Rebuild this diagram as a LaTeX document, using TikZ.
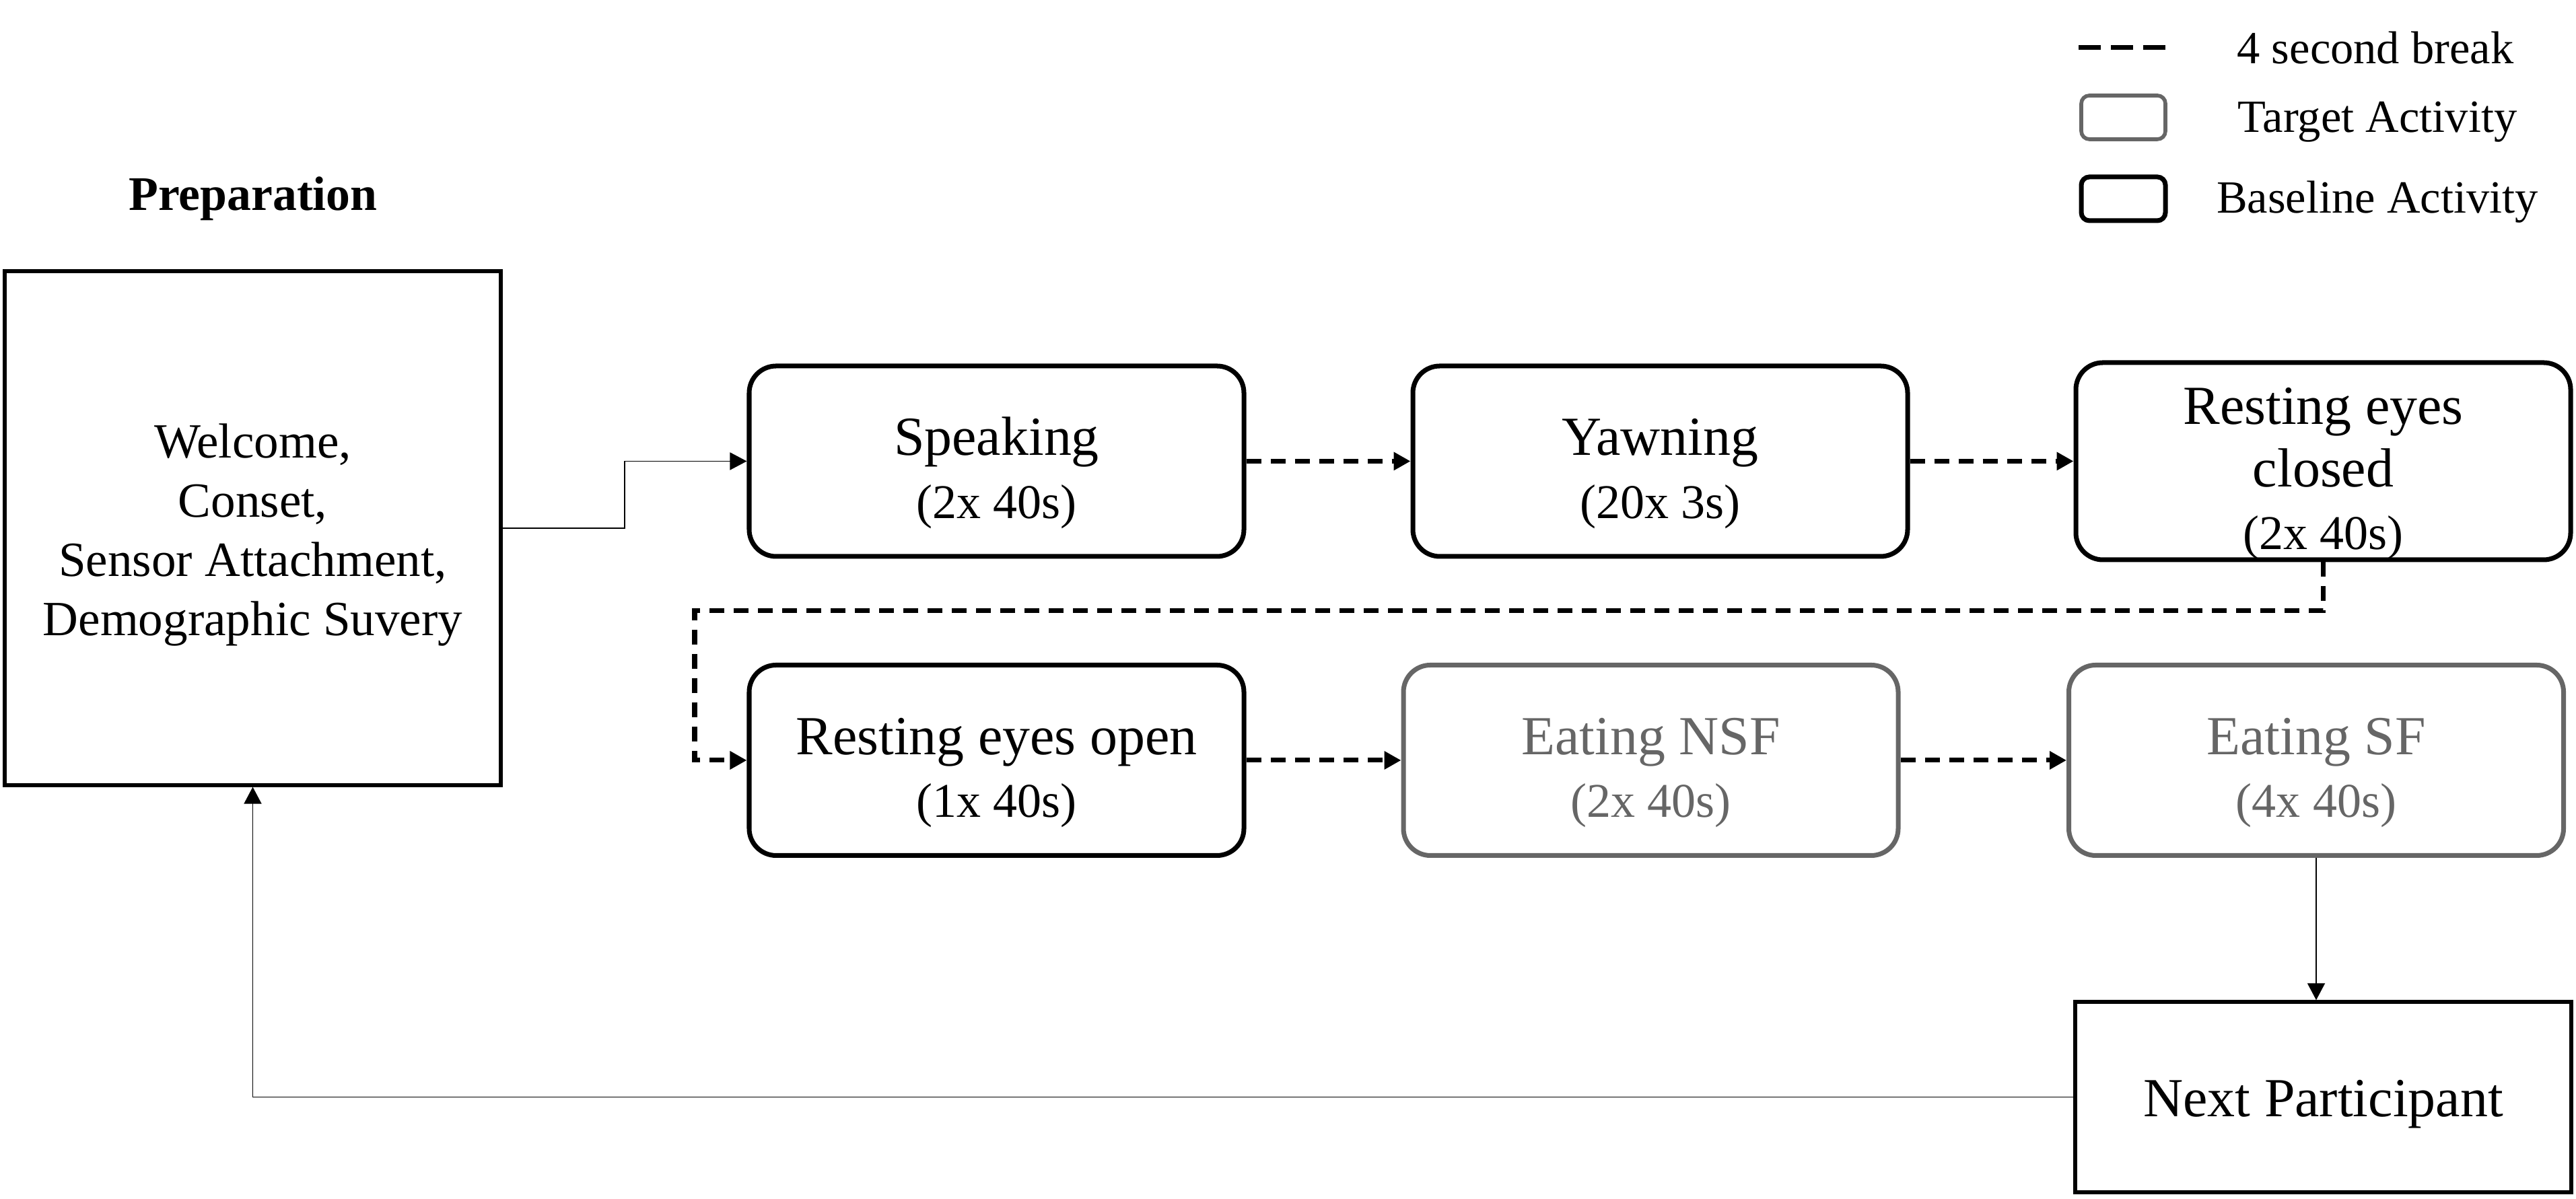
\documentclass[tikz,border=0pt]{standalone}
\usepackage{fontspec}
\setmainfont{Liberation Serif}
\usetikzlibrary{arrows.meta, positioning, calc}
\newcommand{\durtext}[1]{{\fontsize{20.5}{26}\selectfont #1}}
\newcommand{\topstrut}[1]{\rule{0pt}{#1}}

\begin{document}
\begin{tikzpicture}[
    basebox/.style={draw, line width=2pt, rounded corners=0.4cm, minimum width=7.35cm, minimum height=2.83cm, align=center, inner sep=0pt, font=\fontsize{23.3}{26.5}\selectfont},
    targetbox/.style={basebox, draw=black!60, text=black!60},
    plainbox/.style={draw, line width=1.5pt, align=center, inner sep=0pt},
    dashline/.style={line width=2pt, dash pattern=on 0.22cm off 0.14cm},
    breakline/.style={dashline, -{Triangle[length=0.25cm, width=0.26cm]}},
    flowline/.style={line width=0.5pt, -{Triangle[length=0.25cm, width=0.26cm]}},
    legbox/.style={draw, rounded corners=0.12cm, minimum width=1.25cm, minimum height=0.65cm, inner sep=0pt},
    legtext/.style={font=\fontsize{19.5}{23}\selectfont}
]
    \useasboundingbox (0,0) rectangle (38.27,17.82);

    % Preparation
    \node[font=\bfseries\fontsize{20.4}{24}\selectfont] (preptitle) at (3.76,14.87) {Preparation};
    \node[plainbox, minimum width=7.37cm, minimum height=7.64cm, font=\fontsize{20.8}{25}\selectfont] (prep) at (3.755,9.97)
        {\topstrut{20pt}Welcome,\\Conset,\\Sensor Attachment,\\Demographic Suvery};

    % first row
    \node[basebox] (speak) at (14.805,10.965) {\topstrut{26pt}Speaking\\\durtext{(2x 40s)}};
    \node[basebox] (yawn) at (24.665,10.965) {\topstrut{26pt}Yawning\\\durtext{(20x 3s)}};
    \node[basebox] (closed) at (34.515,10.965) {\topstrut{26pt}Resting eyes\\closed\\\durtext{(2x 40s)}};

    % second row
    \node[basebox] (open) at (14.805,6.52) {\topstrut{26pt}Resting eyes open\\\durtext{(1x 40s)}};
    \node[targetbox] (nsf) at (24.525,6.52) {\topstrut{26pt}Eating NSF\\\durtext{(2x 40s)}};
    \node[targetbox] (sf) at (34.41,6.52) {\topstrut{26pt}Eating SF\\\durtext{(4x 40s)}};

    % end
    \node[plainbox, minimum width=7.37cm, minimum height=2.83cm, font=\fontsize{23.3}{27}\selectfont] (next) at (34.515,1.515) {\topstrut{21.5pt}Next Participant};

    % connectors
    \draw[flowline] (prep.east) -| ($(prep.east)!0.5!(speak.west)$) |- (speak.west);
    \draw[breakline] (speak) -- (yawn);
    \draw[breakline] (yawn) -- (closed);
    \coordinate (turn) at (10.32,8.74);
    \draw[breakline] (closed.south) |- (turn) |- (open.west);
    \draw[breakline] (open) -- (nsf);
    \draw[breakline] (nsf) -- (sf);
    \draw[flowline] (sf.south) -- (sf.south |- next.north);
    \draw[flowline] (next.west) -| (prep.south);

    % legend
    \coordinate (legA) at (30.88,17.11);
    \coordinate (legB) at (32.17,17.11);
    \draw[line width=2pt, dash pattern=on 0.33cm off 0.15cm] (legA) -- (legB);
    \node[legtext] (legbreak) at (35.29,17.11) {4 second break};
    \node[legbox, draw=black!60, line width=1.6pt] (legtarget) at (31.545,16.075) {};
    \node[legtext] (legtargettext) at (35.32,16.01) {Target Activity};
    \node[legbox, line width=2pt] (legbase) at (31.545,14.865) {};
    \node[legtext] (legbasetext) at (35.32,14.82) {Baseline Activity};
\end{tikzpicture}
\end{document}
